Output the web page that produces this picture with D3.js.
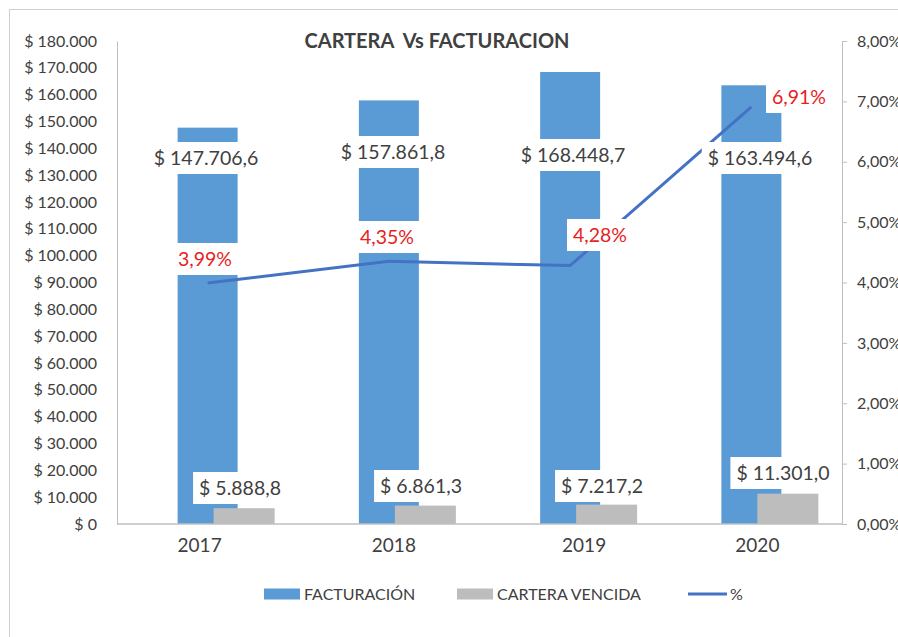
<!DOCTYPE html>
<html>
<head>
<meta charset="utf-8">
<script src="https://cdn.jsdelivr.net/npm/d3@7"></script>
<style>
  body { margin: 0; background: #fff; }
  svg { font-family: Lato, "Open Sans", sans-serif; }
</style>
</head>
<body>
<svg width="898" height="637"></svg>
<script>
var years = ["2017", "2018", "2019", "2020"];
var facturacion = [147706.6, 157861.8, 168448.7, 163494.6];
var cartera = [5888.8, 6861.3, 7217.2, 11301.0];
var pct = [3.99, 4.35, 4.28, 6.91];
var leftTicks = d3.range(0, 180001, 10000);
var rightTicks = d3.range(0, 9, 1);

// label placement (pixel centres)
var factLabelPos = [[206, 158], [393, 152], [573, 155], [760, 158]];
var pctLabelPos = [[205, 259], [387, 237], [600, 235], [799, 97]];
var carteraLabelPos = [[240, 488], [421, 486], [602, 486], [783, 473]];
var yearShift = [-8, 5, 14, 6];

var margin = {left: 117, right: 56, top: 41, bottom: 113};
var width = 898, height = 637;

var svg = d3.select('svg');
var textColor = "#404040";
var blue = "#5B9BD5", gray = "#BDBDBD", lineColor = "#4472C4", red = "#E8221E";

// chart frame
svg.append("rect")
  .attr("x", 9.5).attr("y", 9.5)
  .attr("width", 1000).attr("height", 1000)
  .attr("fill", "none").attr("stroke", "#D0D0D0");

var x = d3.scaleBand().domain(years).range([margin.left, width - margin.right]);
var y = d3.scaleLinear().domain([0, 180000]).range([height - margin.bottom, margin.top]);
var y2 = d3.scaleLinear().domain([0, 8]).range([height - margin.bottom, margin.top]);

function cx(d, i) { return x(years[i]) + x.bandwidth() / 2; }

function money(v) {
  var s = Math.round(v).toString().replace(/\B(?=(\d{3})+(?!\d))/g, ".");
  return "$ " + s;
}
function money1(v) {
  var parts = v.toFixed(1).split(".");
  return "$ " + parts[0].replace(/\B(?=(\d{3})+(?!\d))/g, ".") + "," + parts[1];
}

// title
svg.append("text")
  .attr("x", 437).attr("y", 48)
  .attr("text-anchor", "middle")
  .attr("font-weight", "bold")
  .attr("font-size", 20)
  .attr("fill", textColor)
  .style("white-space", "pre")
  .text("CARTERA  Vs FACTURACION");

// left axis
var axisLeft = d3.axisLeft(y).tickValues(leftTicks).tickSize(0).tickPadding(20)
  .tickFormat(money);
var gl = svg.append("g")
  .attr("transform", "translate(" + margin.left + ",0)")
  .call(axisLeft);
gl.select(".domain").attr("stroke", "#BFBFBF");
gl.selectAll("text").attr("font-size", 16).attr("fill", textColor)
  .attr("font-family", "Lato, sans-serif");

// right axis
var axisRight = d3.axisRight(y2).tickValues(rightTicks).tickSize(5).tickPadding(10)
  .tickFormat(function(d) { return d.toFixed(2).replace(".", ",") + "%"; });
var gr = svg.append("g")
  .attr("transform", "translate(" + (width - margin.right) + ",0)")
  .call(axisRight);
gr.select(".domain").attr("stroke", "#BFBFBF");
gr.selectAll("line").attr("stroke", "#BFBFBF");
gr.selectAll("text").attr("font-size", 16).attr("fill", textColor)
  .attr("font-family", "Lato, sans-serif");

// bars
svg.selectAll("rect.fact")
  .data(facturacion)
  .enter()
  .append("rect")
  .attr("class", "fact")
  .attr("x", function(d, i) { return cx(d, i) - 30; })
  .attr("width", 60)
  .attr("y", function(d) { return y(d); })
  .attr("height", function(d) { return y(0) - y(d); })
  .attr("fill", blue);

svg.selectAll("rect.cart")
  .data(cartera)
  .enter()
  .append("rect")
  .attr("class", "cart")
  .attr("x", function(d, i) { return cx(d, i) + 6; })
  .attr("width", 61)
  .attr("y", function(d) { return y(d); })
  .attr("height", function(d) { return y(0) - y(d); })
  .attr("fill", gray);

// bottom axis line
svg.append("line")
  .attr("x1", margin.left).attr("x2", width - margin.right)
  .attr("y1", y(0)).attr("y2", y(0))
  .attr("stroke", "#BFBFBF").attr("stroke-width", 1.5);

// year labels
svg.selectAll("text.year")
  .data(years)
  .enter()
  .append("text")
  .attr("class", "year")
  .attr("x", function(d, i) { return x(d) + x.bandwidth() / 2 + yearShift[i]; })
  .attr("y", 552)
  .attr("text-anchor", "middle")
  .attr("font-size", 19)
  .attr("fill", textColor)
  .text(function(d) { return d; });

// line
var line = d3.line()
  .x(function(d, i) { return cx(d, i); })
  .y(function(d) { return y2(d); });
svg.append("path")
  .datum(pct)
  .attr("d", line)
  .attr("fill", "none")
  .attr("stroke", lineColor)
  .attr("stroke-width", 3);

// data labels with white boxes
function labels(cls, data, pos, fmt, color, size) {
  var g = svg.selectAll("g." + cls)
    .data(data)
    .enter()
    .append("g")
    .attr("class", cls)
    .attr("transform", function(d, i) { return "translate(" + pos[i][0] + "," + pos[i][1] + ")"; });
  var t = g.append("text")
    .attr("text-anchor", "middle")
    .attr("dy", "0.36em")
    .attr("font-size", size)
    .attr("fill", color)
    .text(fmt);
  g.each(function() {
    var gg = d3.select(this);
    var bb = gg.select("text").node().getBBox();
    gg.insert("rect", "text")
      .attr("x", bb.x - 6).attr("y", -16)
      .attr("width", bb.width + 12).attr("height", 32)
      .attr("fill", "#fff");
  });
}

labels("flab", facturacion, factLabelPos, money1, textColor, 19.5);
labels("clab", cartera, carteraLabelPos, money1, textColor, 19.5);
labels("plab", pct, pctLabelPos, function(d) { return d.toFixed(2).replace(".", ",") + "%"; }, red, 19.5);

// legend
var legend = svg.append("g").attr("transform", "translate(0,594)");
legend.append("rect").attr("x", 264).attr("y", -5.5).attr("width", 36).attr("height", 11).attr("fill", blue);
legend.append("text").attr("x", 304).attr("dy", "0.36em").attr("font-size", 16).attr("fill", textColor).text("FACTURACIÓN");
legend.append("rect").attr("x", 457).attr("y", -5.5).attr("width", 36).attr("height", 11).attr("fill", gray);
legend.append("text").attr("x", 497).attr("dy", "0.36em").attr("font-size", 16).attr("fill", textColor).text("CARTERA VENCIDA");
legend.append("line").attr("x1", 688).attr("x2", 727).attr("y1", 0).attr("y2", 0)
  .attr("stroke", lineColor).attr("stroke-width", 3);
legend.append("text").attr("x", 730).attr("dy", "0.36em").attr("font-size", 16).attr("fill", textColor).text("%");
</script>
</body>
</html>
